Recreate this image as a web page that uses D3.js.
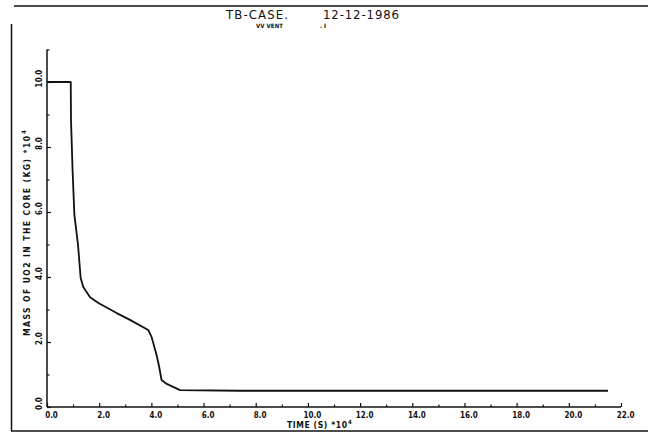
<!DOCTYPE html>
<html>
<head>
<meta charset="utf-8">
<script src="https://cdn.jsdelivr.net/npm/d3@7/dist/d3.min.js"></script>
<style>
  html, body { margin: 0; padding: 0; background: #fff; }
  svg { display: block; }
  text { fill: #111; font-family: "DejaVu Sans Condensed", "DejaVu Sans", sans-serif; }
</style>
</head>
<body>
<svg id="chart" width="648" height="437"></svg>
<script>
// Time in units of 10^4 s, mass of UO2 remaining in the core in units of 10^4 kg
const timeValues = [0.0, 0.91, 0.92, 0.98, 1.05, 1.19, 1.29, 1.39, 1.65, 1.97, 2.67, 3.18, 3.88, 4.01, 4.20, 4.30, 4.39, 4.59, 5.10, 7.40, 21.5];
const massValues = [10.0, 10.0, 8.83, 7.29, 5.91, 4.98, 3.97, 3.69, 3.38, 3.20, 2.89, 2.68, 2.37, 2.15, 1.60, 1.23, 0.83, 0.71, 0.52, 0.50, 0.50];

const xMajorTicks = [0, 2, 4, 6, 8, 10, 12, 14, 16, 18, 20, 22];
const xMinorTicks = [1, 3, 5, 7, 9, 11, 13, 15, 17, 19, 21];
const yMajorTicks = [0, 2, 4, 6, 8, 10];
const yMinorTicks = [1, 3, 5, 7, 9, 11];

const titleLeft = "TB-CASE.";
const titleRight = "12-12-1986";
const subtitleLeft = "VV VENT";
const subtitleRight = ". I";
const xTitle = "TIME (S)  *10";
const xExponent = "4";
const yTitle = "MASS OF UO2 IN THE CORE (KG)  *10";
const yExponent = "4";

const svg = d3.select("#chart");
const ink = "#111";

const x = d3.scaleLinear().domain([0, 22]).range([47, 621]);
const y = d3.scaleLinear().domain([0, 11]).range([407, 49.5]);
const fmt = d3.format(".1f");

// Page frame lines
svg.append("line").attr("x1", 14).attr("x2", 648).attr("y1", 6).attr("y2", 6)
  .attr("stroke", ink).attr("stroke-width", 1.5);
svg.append("line").attr("x1", 11.5).attr("x2", 11.5).attr("y1", 24).attr("y2", 431)
  .attr("stroke", ink).attr("stroke-width", 1.5);
svg.append("line").attr("x1", 11).attr("x2", 648).attr("y1", 431).attr("y2", 431)
  .attr("stroke", ink).attr("stroke-width", 1.5);

// Title block
svg.append("text").attr("x", 226).attr("y", 19).attr("font-size", 13)
  .attr("textLength", 62).attr("lengthAdjust", "spacing").text(titleLeft);
svg.append("text").attr("x", 323).attr("y", 19).attr("font-size", 13)
  .attr("textLength", 76).attr("lengthAdjust", "spacing").text(titleRight);
svg.append("text").attr("x", 256).attr("y", 28).attr("font-size", 6).attr("font-weight", "bold")
  .attr("textLength", 27).attr("lengthAdjust", "spacing").text(subtitleLeft);
svg.append("text").attr("x", 320).attr("y", 28).attr("font-size", 6).attr("font-weight", "bold")
  .text(subtitleRight);

// X axis: major ticks with labels, minor ticks without
const xAxis = svg.append("g").attr("transform", `translate(0,${y(0)})`)
  .call(d3.axisBottom(x).tickValues(xMajorTicks).tickSize(-4).tickPadding(5).tickFormat(fmt));
svg.append("g").attr("transform", `translate(0,${y(0)})`)
  .call(d3.axisBottom(x).tickValues(xMinorTicks).tickSize(-2.5).tickFormat(""))
  .call(g => g.select(".domain").remove());
xAxis.select(".domain").attr("d", `M${x(0)},0H${x(22)}`);
xAxis.selectAll("text").attr("font-size", 8).attr("font-weight", "bold")
  .attr("dx", 4).attr("fill", ink).attr("font-family", "DejaVu Sans Condensed, DejaVu Sans, sans-serif");

// Y axis: labels rotated to read bottom-to-top
const yAxis = svg.append("g").attr("transform", `translate(${x(0)},0)`)
  .call(d3.axisLeft(y).tickValues(yMajorTicks).tickSize(-4).tickFormat(fmt));
svg.append("g").attr("transform", `translate(${x(0)},0)`)
  .call(d3.axisLeft(y).tickValues(yMinorTicks).tickSize(-2.5).tickFormat(""))
  .call(g => g.select(".domain").remove());
yAxis.select(".domain").attr("d", `M0,${y(0)}V${y(11)}`);
yAxis.selectAll(".tick text")
  .attr("x", 0).attr("dy", 0)
  .attr("transform", "translate(-5,-4) rotate(-90)")
  .attr("text-anchor", "middle")
  .attr("font-size", 8).attr("font-weight", "bold").attr("fill", ink)
  .attr("font-family", "DejaVu Sans Condensed, DejaVu Sans, sans-serif");

svg.selectAll(".domain").attr("stroke", ink).attr("stroke-width", 1.5);
svg.selectAll(".tick line").attr("stroke", ink).attr("stroke-width", 1.2);

// Axis titles, each with its power-of-ten exponent raised beside it
svg.append("text").attr("x", 287).attr("y", 428).attr("font-size", 8.5).attr("font-weight", "bold")
  .attr("textLength", 60).attr("lengthAdjust", "spacing").text(xTitle);
svg.append("text").attr("x", 348).attr("y", 424).attr("font-size", 6).attr("font-weight", "bold")
  .text(xExponent);

svg.append("text").attr("transform", "translate(30,336) rotate(-90)")
  .attr("font-size", 8.5).attr("font-weight", "bold")
  .attr("textLength", 200).attr("lengthAdjust", "spacing").text(yTitle);
svg.append("text").attr("transform", "translate(26,134) rotate(-90)")
  .attr("font-size", 6).attr("font-weight", "bold").text(yExponent);

// Mass curve
const line = d3.line().x((d, i) => x(timeValues[i])).y(d => y(d));
svg.append("path").datum(massValues)
  .attr("d", line)
  .attr("fill", "none").attr("stroke", ink).attr("stroke-width", 1.8)
  .attr("stroke-linejoin", "round");
</script>
</body>
</html>
